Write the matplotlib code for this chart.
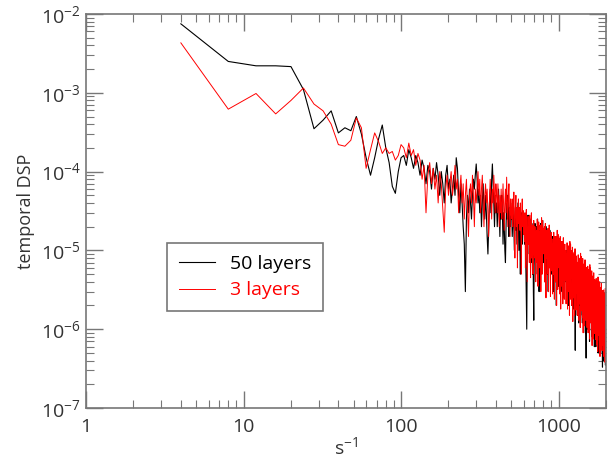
import numpy as np
import matplotlib.pyplot as plt
from matplotlib.ticker import LogLocator, FuncFormatter, NullFormatter

# temporal DSP, one value every 4 Hz starting at 4 Hz (25 values = 100 Hz per row)
dsp_50 = [
    7.5e-3, 2.5e-3, 2.2e-3, 2.2e-3, 2.15e-3, 1.1e-3, 3.5e-4, 4.5e-4, 5.9e-4, 3.1e-4, 3.6e-4, 3.3e-4, 5.0e-4, 3.0e-4, 1.5e-4, 9.0e-5, 1.5e-4, 2.6e-4, 3.9e-4, 2.0e-4, 1.3e-4, 6.5e-5, 5.3e-5, 1.0e-4, 1.5e-4,
    1.6e-4, 1.2e-4, 1.9e-4, 1.5e-4, 1.1e-4, 1.6e-4, 1.3e-4, 9e-5, 1.4e-4, 1.1e-4, 7e-5, 1.2e-4, 1.0e-4, 6e-5, 1.1e-4, 8e-5, 1.3e-4, 9e-5, 5e-5, 1.0e-4, 7e-5, 4e-5, 9e-5, 1.2e-4, 6e-5,
    8e-5, 4e-5, 6e-5, 9e-5, 5e-5, 1.5e-4, 1.1e-4, 5e-5, 3e-5, 7e-5, 4e-5, 2e-5, 1.2e-5, 3e-6, 2.5e-5, 5e-5, 3e-5, 6e-5, 4e-5, 2.5e-5, 5e-5, 8e-5, 6e-5, 9e-5, 1.25e-4,
    8e-5, 4e-5, 6e-5, 3e-5, 5e-5, 2e-5, 4e-5, 7e-5, 3.5e-5, 2.5e-5, 5e-5, 3e-5, 1.5e-5, 9e-6, 2e-5, 4e-5, 6e-5, 3e-5, 8e-5, 1.25e-4, 7e-5, 4e-5, 2e-5, 5e-5, 3e-5,
    4e-5, 2e-5, 3.5e-5, 6e-5, 3e-5, 1.5e-5, 4e-5, 2.5e-5, 5e-5, 3e-5, 1.2e-5, 3e-5, 2e-5, 1e-5, 7e-6, 2e-5, 4e-5, 2.5e-5, 5e-5, 3e-5, 1.5e-5, 3.5e-5, 2e-5, 4e-5, 2.5e-5,
    3e-5, 1.5e-5, 2.5e-5, 4e-5, 2e-5, 1e-5, 2.5e-5, 3.5e-5, 1.8e-5, 3e-5, 1.2e-5, 2.2e-5, 4e-5, 2e-5, 1e-5, 2.5e-5, 1.5e-5, 5e-6, 1.5e-5, 3e-5, 2e-5, 1.2e-5, 2.5e-5, 1.6e-5, 3e-5,
    2e-5, 1.2e-5, 2.5e-5, 1.5e-5, 6e-6, 2.5e-6, 1e-6, 8e-6, 1.8e-5, 2.8e-5, 1.4e-5, 2e-5, 9e-6, 1.6e-5, 2.5e-5, 1.2e-5, 7e-6, 1.5e-5, 2.2e-5, 1e-5, 5e-6, 1.2e-5, 3e-6, 1.3e-6, 8e-6,
    1.5e-5, 2.2e-5, 9e-6, 5e-6, 1.2e-5, 2e-5, 8e-6, 1.5e-5, 2.5e-5, 1.1e-5, 6e-6, 1.3e-5, 3e-6, 9e-6, 1.8e-5, 1e-5, 2.2e-5, 1.2e-5, 5e-6, 1.4e-5, 8e-6, 1.6e-5, 2.4e-5, 1.1e-5, 7e-6,
    1.2e-5, 1.8e-5, 8e-6, 4e-6, 1e-5, 1.5e-5, 7e-6, 1.2e-5, 2e-5, 9e-6, 5e-6, 1.1e-5, 1.7e-5, 8e-6, 3e-6, 9e-6, 1.4e-5, 7e-6, 1.2e-5, 1.8e-5, 8e-6, 1.1e-5, 5e-6, 1e-5, 1.5e-5,
    9e-6, 5e-6, 1.1e-5, 1.5e-5, 7e-6, 3e-6, 8e-6, 1.2e-5, 6e-6, 1e-5, 1.4e-5, 7e-6, 4e-6, 9e-6, 1.3e-5, 6e-6, 2e-6, 7e-6, 1.1e-5, 5e-6, 8e-6, 1.2e-5, 6e-6, 3.5e-6, 8e-6,
    1e-5, 6e-6, 1.2e-5, 8e-6, 4e-6, 9e-6, 1.3e-5, 6e-6, 3e-6, 7e-6, 1.1e-5, 5e-6, 8e-6, 1.2e-5, 6e-6, 2.5e-6, 7e-6, 1e-5, 5e-6, 8e-6, 1.1e-5, 4.5e-6, 7e-6, 1e-5, 5e-6,
    8e-6, 4e-6, 7e-6, 1e-5, 5e-6, 2.5e-6, 6e-6, 9e-6, 4.5e-6, 7e-6, 3e-6, 6e-6, 9e-6, 5e-6, 2e-6, 5.5e-6, 8e-6, 4e-6, 7e-6, 3.5e-6, 6e-6, 8.5e-6, 4e-6, 6e-6, 3e-6,
    6e-6, 8e-6, 4e-6, 2e-6, 5e-6, 7e-6, 3.5e-6, 6e-6, 4e-6, 1.8e-6, 4.5e-6, 7e-6, 3e-6, 5e-6, 2.5e-6, 5.5e-6, 3e-6, 1.2e-6, 5.4e-7, 2e-6, 5e-6, 3.5e-6, 6e-6, 4e-6, 2e-6,
    4.5e-6, 6e-6, 3e-6, 1.5e-6, 4e-6, 5.5e-6, 2.5e-6, 4.5e-6, 6e-6, 3e-6, 1.2e-6, 3.5e-6, 5e-6, 2.5e-6, 4e-6, 2e-6, 4.5e-6, 6e-6, 3e-6, 1.5e-6, 3.5e-6, 5e-6, 2.5e-6, 4e-6, 1.8e-6,
    3.5e-6, 5e-6, 2.5e-6, 1.2e-6, 3e-6, 4.5e-6, 2e-6, 3.5e-6, 5e-6, 2.5e-6, 1.5e-6, 3e-6, 4.5e-6, 2e-6, 3.5e-6, 1.8e-6, 3e-6, 4e-6, 2e-6, 9e-7, 2.5e-6, 1.5e-6, 7e-7, 4.3e-7, 1.5e-6,
    2.5e-6, 3.5e-6, 1.8e-6, 3e-6, 4e-6, 2e-6, 1e-6, 2.5e-6, 3.5e-6, 1.8e-6, 2.8e-6, 1.2e-6, 2.5e-6, 3.5e-6, 1.6e-6, 2.6e-6, 1.4e-6, 7e-7, 2e-6, 3e-6, 1.5e-6, 2.5e-6, 3.2e-6, 1.5e-6, 2.2e-6,
    3e-6, 1.5e-6, 2.5e-6, 1.2e-6, 2.2e-6, 3e-6, 1.5e-6, 8e-7, 2e-6, 2.8e-6, 1.4e-6, 2.2e-6, 1e-6, 2e-6, 2.8e-6, 1.3e-6, 2e-6, 9e-7, 1.8e-6, 2.6e-6, 1.2e-6, 6e-7, 1.6e-6, 2.4e-6, 1.2e-6,
    2.2e-6, 1.1e-6, 1.8e-6, 2.5e-6, 1.2e-6, 6e-7, 1.6e-6, 2.2e-6, 1e-6, 1.8e-6, 8e-7, 1.6e-6, 2.3e-6, 1.1e-6, 1.8e-6, 9e-7, 1.5e-6, 2.1e-6, 1e-6, 5e-7, 1.4e-6, 2e-6, 1e-6, 1.6e-6, 8e-7,
    1.5e-6, 2e-6, 1e-6, 1.6e-6, 7e-7, 1.4e-6, 1.9e-6, 9e-7, 1.5e-6, 2e-6, 1e-6, 5e-7, 1.3e-6, 1.8e-6, 9e-7, 1.4e-6, 7e-7, 1.2e-6, 1.7e-6, 8e-7, 1.3e-6, 6e-7, 1e-6, 5e-7, 3.3e-7,
    9e-7, 1.4e-6, 7e-7, 1.2e-6, 1.6e-6, 8e-7, 4e-7, 1e-6, 1.5e-6, 7e-7, 1.1e-6, 5e-7, 9e-7, 1.3e-6, 6e-7, 1e-6, 4.5e-7, 8e-7, 1.2e-6, 6e-7, 3.5e-7, 7e-7, 1e-6, 5e-7, 8e-7,
]

dsp_3 = [
    4.3e-3, 6.2e-4, 9.8e-4, 5.4e-4, 8.0e-4, 1.15e-3, 7.2e-4, 5.9e-4, 4.0e-4, 2.2e-4, 2.1e-4, 2.5e-4, 4.8e-4, 3.6e-4, 1.1e-4, 1.9e-4, 3.1e-4, 2.4e-4, 1.7e-4, 2.0e-4, 1.7e-4, 1.8e-4, 1.4e-4, 1.6e-4, 2.2e-4,
    2.0e-4, 1.5e-4, 2.3e-4, 1.6e-4, 1.9e-4, 1.2e-4, 1.7e-4, 1.4e-4, 8e-5, 1.2e-4, 3e-5, 9e-5, 1.3e-4, 7e-5, 1.1e-4, 6e-5, 9e-5, 4e-5, 1.0e-4, 7e-5, 3.5e-5, 1.7e-5, 6e-5, 9e-5, 5e-5,
    7e-5, 1.0e-4, 5e-5, 7e-5, 1.2e-4, 6e-5, 8e-5, 3e-5, 6e-5, 9e-5, 4e-5, 7e-5, 2.5e-5, 5e-5, 8e-5, 3.5e-5, 1.5e-5, 5e-5, 7e-5, 4e-5, 9e-5, 5e-5, 2e-5, 6e-5, 4e-5,
    6e-5, 1.0e-4, 5e-5, 8e-5, 3e-5, 6e-5, 9e-5, 4e-5, 2e-5, 5e-5, 7e-5, 4e-5, 6e-5, 3e-5, 1.5e-5, 4e-5, 8e-5, 5e-5, 2.5e-5, 6e-5, 4e-5, 9e-5, 5e-5, 3e-5, 7e-5,
    5e-5, 3e-5, 7e-5, 4e-5, 2e-5, 5e-5, 3e-5, 6e-5, 2.5e-5, 4e-5, 7e-5, 3.5e-5, 1.8e-5, 4e-5, 6e-5, 3e-5, 8.5e-5, 4e-5, 2e-5, 5e-5, 7e-5, 3e-5, 1.5e-5, 4.5e-5, 3e-5,
    2.5e-5, 4.5e-5, 2e-5, 3e-5, 5.5e-5, 2.5e-5, 8e-6, 3.5e-5, 5e-5, 2e-5, 3.5e-5, 6e-6, 2.8e-5, 4.5e-5, 2.2e-5, 3.5e-5, 1.8e-5, 4e-5, 2.5e-5, 5e-6, 3e-5, 4.5e-5, 2e-5, 3.2e-5, 1.6e-5,
    2.4e-5, 1.3e-5, 3e-5, 6e-6, 1.8e-5, 3.3e-5, 1e-5, 4e-6, 1.6e-5, 2.7e-5, 1.2e-5, 2e-5, 7e-6, 2.8e-5, 1.4e-5, 4.5e-6, 1.9e-5, 3e-5, 8e-6, 2.1e-5, 1.3e-5, 5e-6, 1.6e-5, 2.4e-5, 1e-5,
    8e-6, 2e-5, 1.4e-5, 4e-6, 1.1e-5, 1.8e-5, 7e-6, 2.5e-5, 1.5e-5, 3.5e-6, 1.2e-5, 2.3e-5, 6e-6, 1.7e-5, 9e-6, 2.1e-5, 1.3e-5, 3e-6, 8e-6, 2.6e-5, 1.4e-5, 5e-6, 2.4e-5, 1.1e-5, 1.9e-5,
    1.6e-5, 9e-6, 2e-5, 4e-6, 1.2e-5, 2.2e-5, 7e-6, 2.5e-6, 1.1e-5, 1.8e-5, 8e-6, 1.4e-5, 5e-6, 1.9e-5, 1e-5, 3e-6, 1.3e-5, 2.1e-5, 6e-6, 1.5e-5, 9e-6, 2.6e-6, 1.2e-5, 1.7e-5, 7e-6,
    5.5e-6, 1.4e-5, 9.5e-6, 2.8e-6, 7e-6, 1.2e-5, 5e-6, 1.7e-5, 1e-5, 2.4e-6, 8e-6, 1.5e-5, 4e-6, 1.1e-5, 6.5e-6, 1.5e-5, 9e-6, 2e-6, 5.5e-6, 1.8e-5, 1e-5, 3.2e-6, 1.6e-5, 7e-6, 1.3e-5,
    1.1e-5, 6e-6, 1.4e-5, 2.8e-6, 8.5e-6, 1.5e-5, 5e-6, 1.8e-6, 7.5e-6, 1.3e-5, 5.5e-6, 1e-5, 3.5e-6, 1.3e-5, 7e-6, 2.1e-6, 9e-6, 1.45e-5, 4.2e-6, 1.05e-5, 6.3e-6, 2.4e-6, 8.4e-6, 1.2e-5, 4.9e-6,
    4.2e-6, 1e-5, 7.2e-6, 2.1e-6, 5.4e-6, 9e-6, 3.6e-6, 1.25e-5, 7.8e-6, 1.8e-6, 6e-6, 1.15e-5, 3e-6, 8.4e-6, 4.8e-6, 1.1e-5, 6.6e-6, 1.5e-6, 4.2e-6, 1.3e-5, 7.2e-6, 2.4e-6, 1.2e-5, 5.4e-6, 9.6e-6,
    8e-6, 4.5e-6, 1e-5, 2e-6, 6e-6, 1.1e-5, 3.5e-6, 1.25e-6, 5.5e-6, 9e-6, 4e-6, 7e-6, 2.5e-6, 9.5e-6, 5e-6, 1.5e-6, 6.5e-6, 1.05e-5, 3e-6, 7.5e-6, 4.5e-6, 1.75e-6, 6e-6, 8.5e-6, 3.5e-6,
    2.9e-6, 7.1e-6, 5e-6, 1.5e-6, 3.8e-6, 6.3e-6, 2.5e-6, 8.8e-6, 5.5e-6, 1.3e-6, 4.2e-6, 8e-6, 2.1e-6, 5.9e-6, 3.4e-6, 7.6e-6, 4.6e-6, 1.05e-6, 2.9e-6, 9.2e-6, 5e-6, 1.7e-6, 8.4e-6, 3.8e-6, 6.7e-6,
    5.8e-6, 3.2e-6, 7.2e-6, 1.4e-6, 4.3e-6, 7.9e-6, 2.5e-6, 9e-7, 4e-6, 6.5e-6, 2.9e-6, 5e-6, 1.8e-6, 6.8e-6, 3.6e-6, 1.1e-6, 4.7e-6, 7.6e-6, 2.2e-6, 7e-6, 3.2e-6, 1.3e-6, 4.3e-6, 6.1e-6, 2.5e-6,
    2.1e-6, 5.1e-6, 3.6e-6, 1.05e-6, 2.7e-6, 4.5e-6, 1.8e-6, 6.3e-6, 3.9e-6, 9e-7, 3e-6, 5.7e-6, 1.5e-6, 4.2e-6, 2.4e-6, 5.4e-6, 3.3e-6, 7.5e-7, 2.1e-6, 6.6e-6, 3.6e-6, 1.2e-6, 6e-6, 2.7e-6, 4.8e-6,
    4e-6, 2.2e-6, 5e-6, 1e-6, 3e-6, 5.5e-6, 1.75e-6, 6.2e-7, 2.75e-6, 4.5e-6, 2e-6, 3.5e-6, 1.25e-6, 4.75e-6, 2.5e-6, 7.5e-7, 3.25e-6, 5.2e-6, 1.5e-6, 3.75e-6, 2.25e-6, 8.8e-7, 3e-6, 4.25e-6, 1.75e-6,
    1.5e-6, 3.6e-6, 2.5e-6, 7.4e-7, 1.9e-6, 3.2e-6, 1.3e-6, 4.4e-6, 2.7e-6, 6.3e-7, 2.1e-6, 4e-6, 1.05e-6, 2.9e-6, 1.7e-6, 3.8e-6, 2.3e-6, 5.2e-7, 1.5e-6, 4.6e-6, 2.5e-6, 8.4e-7, 4.2e-6, 1.9e-6, 3.4e-6,
    2.9e-6, 1.6e-6, 3.6e-6, 7.2e-7, 2.2e-6, 4e-6, 1.3e-6, 4.5e-7, 2e-6, 3.2e-6, 1.4e-6, 2.5e-6, 9e-7, 3.4e-6, 1.8e-6, 5.4e-7, 2.3e-6, 3.8e-6, 1.1e-6, 2.7e-6, 1.6e-6, 6.3e-7, 2.2e-6, 3.1e-6, 1.3e-6,
    1.05e-6, 2.55e-6, 1.8e-6, 5.3e-7, 1.35e-6, 2.25e-6, 9e-7, 3.15e-6, 1.95e-6, 4.5e-7, 1.5e-6, 2.85e-6, 7.5e-7, 2.1e-6, 1.2e-6, 2.7e-6, 1.65e-6, 3.8e-7, 1.05e-6, 3.3e-6, 1.8e-6, 6e-7, 3e-6, 1.35e-6, 2.4e-6,
]

freq_50 = 4 * np.arange(1, len(dsp_50) + 1)
freq_3 = 4 * np.arange(1, len(dsp_3) + 1)

plt.rcParams['font.family'] = ['Open Sans', 'DejaVu Sans']
plt.rcParams['mathtext.fontset'] = 'custom'
plt.rcParams['mathtext.rm'] = 'Open Sans'
plt.rcParams['mathtext.it'] = 'Open Sans:italic'
plt.rcParams['mathtext.bf'] = 'Open Sans:bold'

fig = plt.figure(figsize=(6.11, 4.59), dpi=100)
ax = fig.add_axes([0.1408, 0.1111, 0.851, 0.8584])

ax.plot(freq_50, dsp_50, color='black', lw=0.8, label='50 layers')
ax.plot(freq_3, dsp_3, color='red', lw=0.7, label='3 layers')

ax.set_xscale('log')
ax.set_yscale('log')
ax.set_xlim(1, 2000)
ax.set_ylim(1e-7, 1e-2)

ax.xaxis.set_major_locator(LogLocator(base=10, numticks=10))
ax.xaxis.set_minor_locator(LogLocator(base=10, subs=np.arange(2, 10), numticks=10))
ax.xaxis.set_major_formatter(FuncFormatter(lambda v, p: f"{v:g}"))
ax.xaxis.set_minor_formatter(NullFormatter())
ax.yaxis.set_minor_locator(LogLocator(base=10, subs=np.arange(2, 10), numticks=10))
ax.yaxis.set_minor_formatter(NullFormatter())

ax.tick_params(which='both', direction='in', top=True, right=True, color='#777777', labelcolor='#333333')
ax.tick_params(which='major', length=12, width=1, labelsize=14)
ax.tick_params(which='minor', length=6, width=0.8)
ax.tick_params(axis='x', pad=7)
ax.tick_params(axis='y', pad=4)
for s in ax.spines.values():
    s.set_color('#777777')
    s.set_linewidth(1.2)

ax.set_xlabel('s$^{-1}$', fontsize=14, color='#333333', labelpad=0)
ax.set_ylabel('temporal DSP', fontsize=13, color='#333333', labelpad=4)

leg = ax.legend(loc='upper left', bbox_to_anchor=(0.156, 0.419), borderaxespad=0,
                fontsize=14, fancybox=False, framealpha=1, edgecolor='#777777',
                handlelength=1.85, handletextpad=0.8, labelspacing=0.45, borderpad=0.6)
leg.get_frame().set_linewidth(1.2)
for txt, ln in zip(leg.get_texts(), leg.get_lines()):
    txt.set_color(ln.get_color())

fig.savefig('out.png', dpi=100)
